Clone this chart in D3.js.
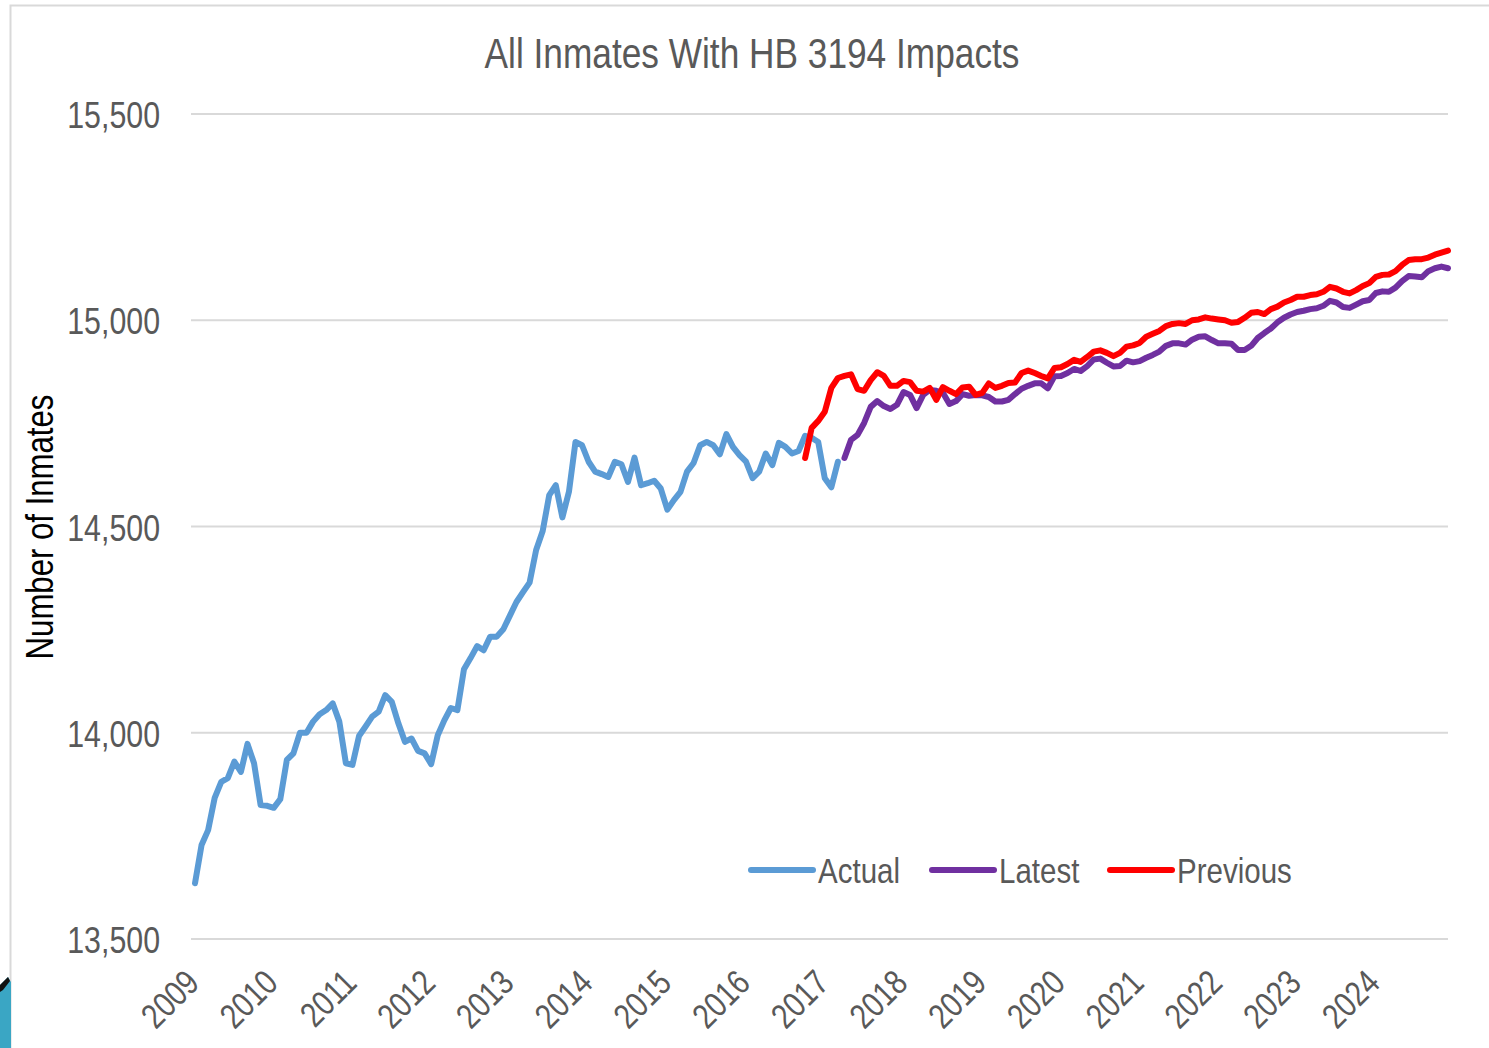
<!DOCTYPE html>
<html>
<head>
<meta charset="utf-8">
<script src="https://cdn.jsdelivr.net/npm/d3@7"></script>
<style>
body { margin: 0; background: #fff; }
text { font-family: "Liberation Sans", Arial, sans-serif; }
</style>
</head>
<body>
<div id="chart"></div>
<script>
// Monthly series, month 0 = Jan 2009, month 191 = Dec 2024
var years = [2009, 2010, 2011, 2012, 2013, 2014, 2015, 2016, 2017, 2018, 2019, 2020, 2021, 2022, 2023, 2024];
var yTicks = [13500, 14000, 14500, 15000, 15500];

var actualStart = 0;
var actual = [
  13635, 13728, 13764, 13842, 13881, 13890, 13930, 13905, 13973, 13926,
  13825, 13823, 13818, 13839, 13934, 13950, 14000, 14000, 14027, 14045,
  14055, 14071, 14027, 13926, 13922, 13992, 14015, 14039, 14051, 14091,
  14075, 14023, 13978, 13986, 13956, 13950, 13924, 13994, 14030, 14060,
  14055, 14154, 14181, 14210, 14200, 14233, 14233, 14251, 14284, 14317,
  14341, 14364, 14443, 14489, 14576, 14600, 14522, 14584, 14705, 14697,
  14657, 14633, 14627, 14620, 14657, 14651, 14608, 14667, 14600, 14605,
  14611, 14592, 14541, 14564, 14584, 14633, 14654, 14697, 14705, 14697,
  14675, 14724, 14693, 14673, 14657, 14617, 14633, 14677, 14649, 14703,
  14693, 14677, 14683, 14720, 14715, 14705, 14617, 14595, 14657
];

var previousStart = 93;
var previous = [
  14666, 14739, 14756, 14778, 14836, 14860, 14865, 14869, 14833, 14829,
  14855, 14874, 14865, 14841, 14841, 14853, 14850, 14829, 14827, 14836,
  14807, 14838, 14829, 14821, 14837, 14839, 14819, 14824, 14847, 14836,
  14841, 14848, 14849, 14872, 14878, 14872, 14865, 14859, 14884, 14886,
  14894, 14904, 14899, 14911, 14924, 14927, 14921, 14913, 14921, 14936,
  14939, 14945, 14960, 14967, 14974, 14986, 14991, 14993, 14991, 15000,
  15002, 15007, 15004, 15002, 15000, 14994, 14996, 15006, 15018, 15020,
  15015, 15027, 15033, 15043, 15049, 15057, 15057, 15061, 15063, 15069,
  15081, 15077, 15069, 15065, 15073, 15083, 15090, 15105, 15110, 15111,
  15119, 15134, 15146, 15148, 15148, 15152, 15159, 15164, 15169
];

var latestStart = 99;
var latest = [
  14666, 14710, 14722, 14751, 14790, 14804, 14792, 14785, 14795, 14826,
  14819, 14787, 14819, 14831, 14829, 14824, 14797, 14804, 14821, 14817,
  14819, 14818, 14814, 14803, 14803, 14807, 14821, 14834, 14841, 14847,
  14847, 14835, 14864, 14865, 14872, 14882, 14877, 14889, 14905, 14907,
  14897, 14888, 14889, 14902, 14898, 14901, 14909, 14916, 14924, 14938,
  14944, 14944, 14941, 14953, 14960, 14961, 14952, 14944, 14944, 14943,
  14928, 14928, 14938, 14957, 14969, 14980, 14995, 15006, 15014, 15020,
  15023, 15027, 15029, 15035, 15047, 15043, 15032, 15030, 15038, 15046,
  15049, 15066, 15070, 15069, 15079, 15095, 15107, 15106, 15104, 15119,
  15126, 15130, 15126
];

var seriesNames = ["Actual", "Latest", "Previous"];
var seriesColors = ["#5B9BD5", "#7030A0", "#FF0000"];

// Set up the svg
var svgWidth = 1489;
var svgHeight = 1048;
var narrow = "scale(0.82, 1)"; // squeeze Arial into Arial Narrow widths

var svg = d3.select("#chart").append("svg")
    .attr("width", svgWidth)
    .attr("height", svgHeight);

svg.append("rect")
    .attr("width", svgWidth)
    .attr("height", svgHeight)
    .attr("fill", "#fff");

// chart frame (only top/left edges are visible)
svg.append("rect")
    .attr("x", 10.5)
    .attr("y", 5.5)
    .attr("width", 1600)
    .attr("height", 1200)
    .attr("fill", "none")
    .attr("stroke", "#d9d9d9")
    .attr("stroke-width", 2);

// slide background peeking in at bottom-left
svg.append("path")
    .attr("d", "M0,985 L8,977 L11,982 L11,1048 L0,1048 Z")
    .attr("fill", "#3aa6c4");
svg.append("path")
    .attr("d", "M0,985 L8,977 L10,981 L3,990 L0,992 Z")
    .attr("fill", "#111");

// Scales
var xScale = d3.scaleLinear().domain([0, 191]).range([195, 1448]);
var yScale = d3.scaleLinear().domain([13500, 15500]).range([939, 114]);

// Gridlines
svg.append("g").selectAll("line")
    .data(yTicks)
    .enter()
    .append("line")
    .attr("x1", 191)
    .attr("x2", 1448)
    .attr("y1", d => yScale(d))
    .attr("y2", d => yScale(d))
    .attr("stroke", "#d9d9d9")
    .attr("stroke-width", 2);

// Y tick labels
var fmt = d3.format(",");
svg.append("g").selectAll("text")
    .data(yTicks)
    .enter()
    .append("text")
    .attr("transform", d => `translate(160, ${yScale(d) + 14}) ${narrow}`)
    .attr("text-anchor", "end")
    .attr("fill", "#595959")
    .style("font-size", "37px")
    .text(d => fmt(d));

// X tick labels (one per January)
svg.append("g").selectAll("text")
    .data(years)
    .enter()
    .append("text")
    .attr("transform", (d, i) => `translate(${xScale(i * 12) + 6}, 985) rotate(-45) ${narrow}`)
    .attr("text-anchor", "end")
    .attr("fill", "#595959")
    .style("font-size", "35px")
    .text(d => d);

// Title
svg.append("text")
    .attr("transform", `translate(752, 68) ${narrow}`)
    .attr("text-anchor", "middle")
    .attr("fill", "#595959")
    .style("font-size", "43px")
    .text("All Inmates With HB 3194 Impacts");

// Y axis title
svg.append("text")
    .attr("transform", `translate(53, 527) rotate(-90) ${narrow}`)
    .attr("text-anchor", "middle")
    .attr("fill", "#000")
    .style("font-size", "38px")
    .text("Number of Inmates");

// Lines
function drawLine(values, start, color) {
    var line = d3.line()
        .x((d, i) => xScale(start + i))
        .y(d => yScale(d));
    svg.append("path")
        .datum(values)
        .attr("d", line)
        .attr("fill", "none")
        .attr("stroke", color)
        .attr("stroke-width", 6)
        .attr("stroke-linejoin", "round")
        .attr("stroke-linecap", "round");
}

drawLine(actual, actualStart, seriesColors[0]);
drawLine(latest, latestStart, seriesColors[1]);
drawLine(previous, previousStart, seriesColors[2]);

// Legend
var legendX = [751, 932, 1110];
var legend = svg.append("g").selectAll("g")
    .data(seriesNames)
    .enter()
    .append("g")
    .attr("transform", (d, i) => `translate(${legendX[i]}, 870)`);

legend.append("line")
    .attr("x1", 0)
    .attr("x2", 62)
    .attr("stroke", (d, i) => seriesColors[i])
    .attr("stroke-width", 6)
    .attr("stroke-linecap", "round");

legend.append("text")
    .attr("transform", `translate(67, 13) ${narrow}`)
    .attr("fill", "#595959")
    .style("font-size", "36px")
    .text(d => d);
</script>
</body>
</html>
